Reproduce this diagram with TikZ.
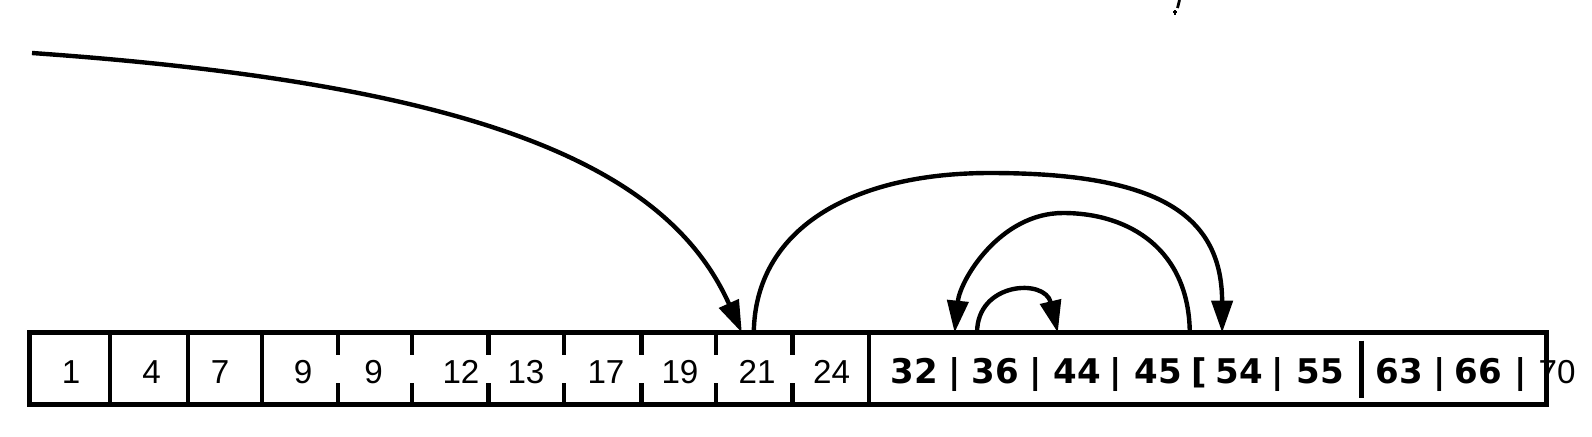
\documentclass[tikz,border=0pt]{standalone}
\usepackage{fontspec}
\setmainfont{Liberation Sans}
\newfontfamily\djfont{DejaVu Sans}
\usetikzlibrary{arrows.meta,calc}
\begin{document}
\begin{tikzpicture}[x=0.5pt,y=-0.5pt,
  frame/.style={line width=2.2pt},
  cell/.style={draw=none,inner sep=0pt,minimum height=35.5pt},
  numA/.style={anchor=base,inner sep=0pt,font=\fontsize{16.6pt}{18pt}\selectfont},
  numB/.style={anchor=base,inner sep=0pt,font=\djfont\bfseries\fontsize{17pt}{20pt}\selectfont},
  link/.style={line width=2.2pt,-{Triangle[length=16pt,width=10.5pt]}}
]
\useasboundingbox (0,0) rectangle (1592,436);
% cells of the first part
\node[cell,minimum width=39.75pt] (c1) at (69.75,368.5) {};
\node[cell,minimum width=39.1pt] (c2) at (148.6,368.5) {};
\node[cell,minimum width=37pt] (c3) at (224.7,368.5) {};
\node[cell,minimum width=37.9pt] (c4) at (299.6,368.5) {};
\node[cell,minimum width=37pt] (c5) at (374.5,368.5) {};
\node[cell,minimum width=38.25pt] (c6) at (449.75,368.5) {};
\node[cell,minimum width=37.85pt] (c7) at (525.85,368.5) {};
\node[cell,minimum width=38.65pt] (c8) at (602.35,368.5) {};
\node[cell,minimum width=37.3pt] (c9) at (678.3,368.5) {};
\node[cell,minimum width=38.2pt] (c10) at (753.8,368.5) {};
\node[cell,minimum width=38.25pt] (c11) at (830.25,368.5) {};
% cells of the second part
\node[cell,minimum width=43.05pt] (d1) at (911.55,368.5) {};
\node[cell,minimum width=40.45pt] (d2) at (995.05,368.5) {};
\node[cell,minimum width=40.1pt] (d3) at (1075.6,368.5) {};
\node[cell,minimum width=39.65pt] (d4) at (1155.35,368.5) {};
\node[cell,minimum width=41.35pt] (d5) at (1236.35,368.5) {};
\node[cell,minimum width=41.65pt] (d6) at (1319.35,368.5) {};
\node[cell,minimum width=39.5pt] (d7) at (1400.5,368.5) {};
\node[cell,minimum width=40.3pt] (d8) at (1480.3,368.5) {};
\node[cell,minimum width=12.7pt] (d9) at (1533.3,368.5) {};
% frame
\draw[frame] (c1.north west) rectangle (d9.south east);
\foreach \c in {c1,c2,c3,c11}{
  \draw[frame] (\c.north east) -- (\c.south east);
}
\foreach \c in {c4,c5,c6,c7,c8,c9,c10}{
  \draw[frame] (\c.north east) -- ++(0,22) (\c.south east) -- ++(0,-21);
}
\draw[line width=2.6pt] ([yshift=-4pt]d6.north east) -- ([yshift=3pt]d6.south east);
% numbers, first part
\node[numA] (n1) at (71,383.5) {1};
\node[numA] (n2) at (151.5,383.5) {4};
\node[numA] (n3) at (220,383.5) {7};
\node[numA] (n4) at (303,383.5) {9};
\node[numA] (n5) at (373.6,383.5) {9};
\node[numA] (n6) at (461,383.5) {12};
\node[numA] (n7) at (526,383.5) {13};
\node[numA] (n8) at (606,383.5) {17};
\node[numA] (n9) at (680,383.5) {19};
\node[numA] (n10) at (757,383.5) {21};
\node[numA] (n11) at (831.6,383.5) {24};
% numbers, second part
\node[numB] (m1) at (914,383.5) {32};
\node[numB] (m2) at (995,383.5) {36};
\node[numB] (m3) at (1077,383.5) {44};
\node[numB] (m4) at (1158,383.5) {45};
\node[numB] (m5) at (1239,383.5) {54};
\node[numB] (m6) at (1320,383.5) {55};
\node[numB] (m7) at (1399,383.5) {63};
\node[numB] (m8) at (1478,383.5) {66};
\node[numA] (m9) at (1557,383.5) {70};
% separators
\node[numB] (s1) at (954.6,383.5) {|};
\node[numB] (s2) at (1035.5,383.5) {|};
\node[numB] (s3) at (1115.7,383.5) {|};
\node[numB] (s4) at (1199,383.5) {[};
\node[numB] (s5) at (1277.7,383.5) {|};
\node[numB] (s6) at (1440,383.5) {|};
\node[numB] (s7) at (1520.6,383.5) {|};
% connectors
\coordinate (start) at (32,53);
\draw[link] (start) .. controls (482,84.5) and (667.75,167) .. ($(c10.north west)!0.345!(c10.north east)$);
\draw[link] (c10.north) .. controls (755,230) and (850,173) .. (990,173)
  .. controls (1150,173) and (1222,210) .. ($(d5.north west)!0.33!(d5.north east)$);
\draw[link] ($(d4.north west)!0.93!(d4.north east)$) .. controls (1189,250) and (1130,213) .. (1063,213)
  .. controls (1000,213) and (960,280) .. ($(d2.north west)!0.005!(d2.north east)$);
\draw[link] ($(d2.north west)!0.28!(d2.north east)$) .. controls (977,282) and (1045,278) .. ($(d3.north west)!0.28!(d3.north east)$);
% small stray mark at the top
\draw[line width=1.4pt] (1179.5,0) -- (1177.5,8);
\draw[line width=1pt] (1173,12) -- (1177,12) (1175,10) -- (1175,15);
\end{tikzpicture}
\end{document}
